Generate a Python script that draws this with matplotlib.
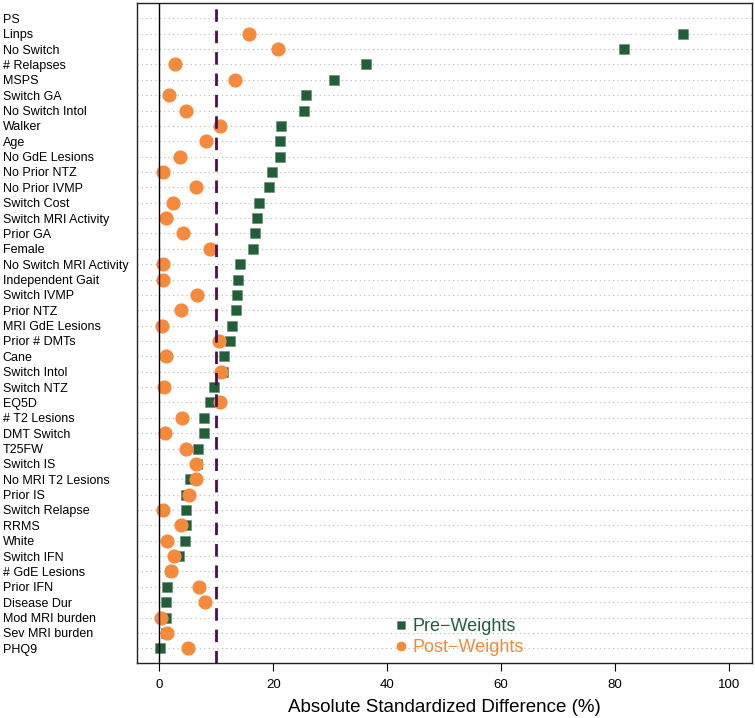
import numpy as np
import matplotlib
matplotlib.use("Agg")
import matplotlib.pyplot as plt

# covariates, top to bottom as in the love plot
labels = ["PS", "Linps", "No Switch", "# Relapses", "MSPS", "Switch GA",
          "No Switch Intol", "Walker", "Age", "No GdE Lesions", "No Prior NTZ",
          "No Prior IVMP", "Switch Cost", "Switch MRI Activity", "Prior GA",
          "Female", "No Switch MRI Activity", "Independent Gait", "Switch IVMP",
          "Prior NTZ", "MRI GdE Lesions", "Prior # DMTs", "Cane", "Switch Intol",
          "Switch NTZ", "EQ5D", "# T2 Lesions", "DMT Switch", "T25FW", "Switch IS",
          "No MRI T2 Lesions", "Prior IS", "Switch Relapse", "RRMS", "White",
          "Switch IFN", "# GdE Lesions", "Prior IFN", "Disease Dur",
          "Mod MRI burden", "Sev MRI burden", "PHQ9"]

pre_weights = [np.nan, 92.0, 81.5, 36.3, 30.6, 25.7, 25.3, 21.3, 21.2, 21.2, 19.8,
               19.2, 17.4, 17.2, 16.7, 16.4, 14.1, 13.8, 13.7, 13.4, 12.7, 12.4,
               11.3, 11.1, 9.5, 8.8, 7.9, 7.8, 6.7, 6.6, 5.3, 4.7, 4.6, 4.6, 4.5,
               3.5, 2.0, 1.35, 1.1, 1.1, 1.2, 0.05]

post_weights = [np.nan, 15.8, 20.9, 2.75, 13.2, 1.7, 4.7, 10.7, 8.2, 3.6, 0.7,
                6.5, 2.3, 1.1, 4.2, 8.9, 0.6, 0.7, 6.6, 3.7, 0.5, 10.4, 1.2, 10.8,
                0.8, 10.6, 4.0, 0.9, 4.6, 6.4, 6.4, 5.2, 0.6, 3.7, 1.3, 2.5, 2.0,
                7.0, 8.0, 0.2, 1.3, 5.1]

threshold = 10

green = "#235E3A"
orange = "#F58A3D"
purple = "#4A1048"

n = len(labels)
ypos = np.arange(n, 0, -1)

plt.rcParams["font.family"] = ["Liberation Sans", "DejaVu Sans"]

fig = plt.figure(figsize=(7.55, 7.18), dpi=100)
ax = fig.add_axes([0.181, 0.0762, 0.8146, 0.9192])

for y in ypos:
    ax.axhline(y, color="#B5B5B5", lw=0.8, ls=(0, (1, 3)), zorder=0)

ax.plot(pre_weights, ypos, ls="none", marker="s", ms=7.6, color=green,
        mec="#5E8A6C", mew=0.4, label="Pre\u2212Weights", zorder=2)
ax.plot(post_weights, ypos, ls="none", marker="o", ms=9.2, color=orange,
        mec=orange, label="Post\u2212Weights", zorder=3)

ax.axvline(0, color="black", lw=1.0, zorder=4)
ax.axvline(threshold, color=purple, lw=2.0, ls=(0, (4.5, 3.2)), zorder=4)

ax.set_xlim(-4, 104)
ax.set_ylim(0.02, n + 0.98)
ax.set_xticks([0, 20, 40, 60, 80, 100])
ax.tick_params(axis="x", direction="out", length=6, width=0.8, labelsize=9.5, pad=5)

ax.set_yticks(ypos)
ax.set_yticklabels(labels, fontsize=9.0)
ax.tick_params(axis="y", length=0, pad=96.5)
for t in ax.get_yticklabels():
    t.set_horizontalalignment("left")

for s in ax.spines.values():
    s.set_linewidth(1.0)
    s.set_color("#222222")

ax.set_xlabel("Absolute Standardized Difference (%)", fontsize=13.5, labelpad=6)

leg = ax.legend(loc="lower left", bbox_to_anchor=(0.41, 0.0), frameon=False,
                fontsize=13, handlelength=0.6, handletextpad=0.3,
                labelspacing=0.2, borderaxespad=0, labelcolor="markerfacecolor")
for h in leg.legend_handles:
    h.set_markersize(6)

fig.savefig("out.png", dpi=100)
